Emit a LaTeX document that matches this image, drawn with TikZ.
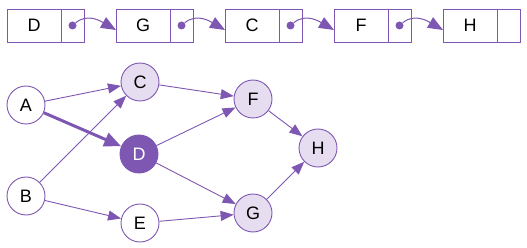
\documentclass[tikz,border=0pt]{standalone}
\usepackage{fontspec}
\setmainfont{Liberation Sans}
\usetikzlibrary{positioning, arrows.meta}
\definecolor{vio}{HTML}{7E57B2}
\definecolor{violight}{HTML}{E6DEF0}
\tikzset{
  cell/.style={draw=vio, line width=0.9pt, minimum height=33pt, minimum width=54pt, inner sep=0pt, outer sep=0pt, font=\fontsize{18}{20}\selectfont},
  ptr/.style={draw=vio, line width=0.9pt, minimum height=33pt, minimum width=23pt, inner sep=0pt, outer sep=0pt},
  dot/.style={circle, fill=vio, inner sep=0pt, minimum size=8pt},
  vx/.style={draw=vio, circle, line width=0.9pt, minimum size=38pt, inner sep=0pt, fill=white, font=\fontsize{18}{20}\selectfont},
  seen/.style={vx, fill=violight},
  cur/.style={vx, fill=vio, text=white},
  link/.style={vio, line width=1pt, -{Triangle[length=15pt, width=12pt]}},
  edge/.style={vio, line width=0.9pt, -{Triangle[length=13pt, width=10pt]}},
  hot/.style={vio, line width=3pt, -{Triangle[length=17pt, width=14pt]}},
}
\begin{document}
\begin{tikzpicture}[x=1pt, y=-1pt]
  \useasboundingbox (0,0) rectangle (527,248);
  % linked list
  \node[cell] (ld) at (34,25.5) {D};
  \node[ptr, right=0pt of ld] (ldp) {};
  \node[cell, right=32pt of ldp] (lg) {G};
  \node[ptr, right=0pt of lg] (lgp) {};
  \node[cell, right=32pt of lgp] (lc) {C};
  \node[ptr, right=0pt of lc] (lcp) {};
  \node[cell, right=32pt of lcp] (lf) {F};
  \node[ptr, right=0pt of lf] (lfp) {};
  \node[cell, right=32pt of lfp] (lh) {H};
  \node[ptr, right=0pt of lh] (lhp) {};
  \node[dot] (k1) at (ldp) {}; \draw[link] (k1) to[out=40, in=150] ([yshift=-4.5pt]lg.west);
  \node[dot] (k2) at (lgp) {}; \draw[link] (k2) to[out=40, in=150] ([yshift=-4.5pt]lc.west);
  \node[dot] (k3) at (lcp) {}; \draw[link] (k3) to[out=40, in=150] ([yshift=-4.5pt]lf.west);
  \node[dot] (k4) at (lfp) {}; \draw[link] (k4) to[out=40, in=150] ([yshift=-4.5pt]lh.west);
  % graph
  \node[vx] (a) at (26,105) {A};
  \node[vx] (b) at (26,196) {B};
  \node[seen] (c) at (140,82) {C};
  \node[cur] (d) at (139,154) {D};
  \node[vx] (e) at (140,223) {E};
  \node[seen] (f) at (253,99) {F};
  \node[seen] (g) at (253,213) {G};
  \node[seen] (h) at (318,148) {H};
  \draw[edge] (a)--(c); \draw[hot] (a)--(d);
  \draw[edge] (b)--(c); \draw[edge] (b)--(e);
  \draw[edge] (c)--(f); \draw[edge] (d)--(f); \draw[edge] (d)--(g);
  \draw[edge] (e)--(g); \draw[edge] (f)--(h); \draw[edge] (g)--(h);
\end{tikzpicture}
\end{document}
